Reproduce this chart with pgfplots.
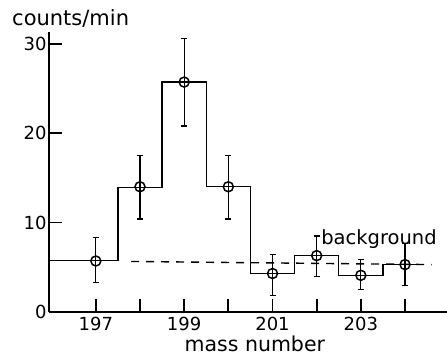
\documentclass[border=0pt]{standalone}
\usepackage{pgfplots}
\pgfplotsset{compat=1.18}
\usepackage{pgfplotstable}
\usepackage{fontspec}
\setmainfont{DejaVu Sans}
\pgfplotstableread{
x y ep em
197 5.7 2.6 2.4
198 14.0 3.5 3.6
199 25.7 4.9 4.9
200 14.0 3.5 3.6
201 4.3 2.1 2.5
202 6.3 2.2 2.3
203 4.1 1.8 1.6
204 5.3 2.4 2.3
}\datatable
\begin{document}
\begin{tikzpicture}
\useasboundingbox (0,0) rectangle (447pt,358pt);
\begin{axis}[
  at={(49pt,46pt)}, anchor=south west,
  scale only axis, width=398pt, height=280pt,
  xmin=195.94, xmax=204.95, ymin=0, ymax=31.3,
  axis lines=left,
  axis line style={line width=2pt, -},
  tick align=inside,
  major tick length=13pt,
  tick style={line width=1.8pt, black},
  xtick={197,198,199,200,201,202,203,204},
  xticklabels={197,,199,,201,,203,},
  ytick={0,10,20,30},
  /pgf/number format/assume math mode=true,
  ticklabel style={font=\fontsize{18}{20}\selectfont},
  xticklabel style={yshift=-2pt},
  yticklabel style={xshift=1pt},
  clip=false,
]
\addplot[const plot, black, line width=1.4pt] coordinates {
(195.94,5.75) (197.5,13.9) (198.5,25.7) (199.5,14.0) (200.5,4.3) (201.5,6.3) (202.5,4.1) (203.5,5.3) (204.3,5.3)
};
\addplot[black, line width=1.4pt, dash pattern=on 8pt off 7pt] coordinates {
(197.8,5.65) (204.6,5.3)
};
\addplot[only marks, black, mark=o, mark size=5pt, mark options={line width=1.5pt},
  error bars/.cd, y dir=both, y explicit,
  error bar style={line width=1.2pt},
  error mark options={rotate=90, mark size=3pt, line width=1.2pt}]
  table[x=x, y=y, y error plus=ep, y error minus=em] {\datatable};
\node[anchor=base west, font=\fontsize{19.5}{22}\selectfont, inner sep=0pt] at (axis cs:202.1,7.6) {background};
\node[anchor=base west, font=\fontsize{21}{22}\selectfont, inner sep=0pt] at (rel axis cs:0,1) [xshift=-37pt, yshift=6pt] {counts/min};
\node[anchor=base, font=\fontsize{20.5}{22}\selectfont, inner sep=0pt] at (axis cs:200.6,0) [yshift=-40pt] {mass number};
\end{axis}
\end{tikzpicture}
\end{document}
